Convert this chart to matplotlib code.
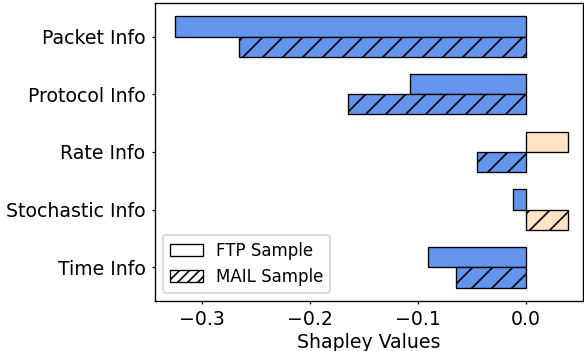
import numpy as np
import matplotlib
matplotlib.use("Agg")
import matplotlib.pyplot as plt
from matplotlib.patches import Patch

features = ['Packet Info', 'Protocol Info', 'Rate Info', 'Stochastic Info', 'Time Info']
ftp_values = [-0.325, -0.107, 0.039, -0.012, -0.091]
mail_values = [-0.266, -0.165, -0.045, 0.039, -0.065]

neg_color = '#6495ED'
pos_color = '#FFE4C4'

plt.rcParams['hatch.linewidth'] = 1.0


def colors_for(vals):
    return [pos_color if v > 0 else neg_color for v in vals]


fig = plt.figure(figsize=(584 / 120, 351 / 120), dpi=120)
ax = fig.add_axes([0.265, 0.142, 0.733, 0.85])

y = np.arange(len(features))
h = 0.35
ax.barh(y - h / 2, ftp_values, height=h, color=colors_for(ftp_values),
        edgecolor='black', linewidth=0.8)
ax.barh(y + h / 2, mail_values, height=h, color=colors_for(mail_values),
        edgecolor='black', linewidth=0.8, hatch='//')

ax.set_yticks(y)
ax.set_yticklabels(features, fontsize=11.3)
ax.invert_yaxis()
ax.set_xlim(-0.344, 0.053)
ax.set_xticks([-0.3, -0.2, -0.1, 0.0])
ax.tick_params(axis='both', labelsize=11.3, length=2, width=0.7)
ax.set_xlabel('Shapley Values', fontsize=11.3, labelpad=2)

handles = [Patch(facecolor='white', edgecolor='black', linewidth=0.8, label='FTP Sample'),
           Patch(facecolor='white', edgecolor='black', linewidth=0.8, hatch='////', label='MAIL Sample')]
ax.legend(handles=handles, loc='lower left', fontsize=10)

fig.savefig('out.png', dpi=120)
